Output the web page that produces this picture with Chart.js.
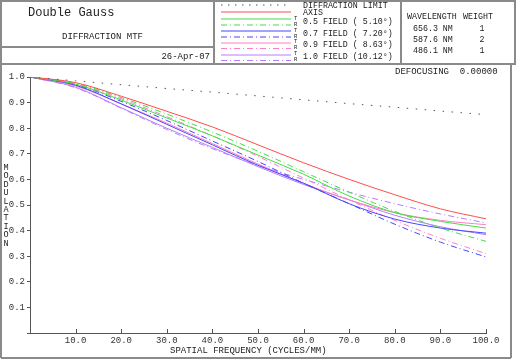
<!DOCTYPE html>
<html lang="en">
<head>
<meta charset="UTF-8">
<title>Double Gauss - Diffraction MTF</title>
<script src="https://cdn.jsdelivr.net/npm/chart.js"></script>
<style>
    body { margin: 0; background: #fff; }
    #wrap { position: relative; width: 517px; height: 362px; }
    #mtf { position: absolute; left: 0; top: 0; }
    #deco { position: absolute; left: 0; top: 0; }
    #deco text { font-family: "Liberation Mono", monospace; fill: #222; white-space: pre; }
</style>
</head>
<body>
<div id="wrap">
    <canvas id="mtf" width="517" height="362"></canvas>
    <svg id="deco" width="517" height="362">
        <!-- frames -->
        <rect x="1" y="1" width="514" height="63" fill="none" stroke="#8a8a8a" stroke-width="2"/>
        <line x1="1" y1="64" x2="1" y2="358" stroke="#8a8a8a" stroke-width="2"/>
        <line x1="511" y1="64" x2="511" y2="358" stroke="#8a8a8a" stroke-width="2"/>
        <line x1="1" y1="358" x2="511" y2="358" stroke="#8a8a8a" stroke-width="2"/>
        <line x1="214" y1="1" x2="214" y2="64" stroke="#8a8a8a" stroke-width="2"/>
        <line x1="401" y1="1" x2="401" y2="64" stroke="#8a8a8a" stroke-width="2"/>
        <line x1="1" y1="47" x2="214" y2="47" stroke="#8a8a8a" stroke-width="2"/>

        <text x="28" y="16" font-size="12">Double Gauss</text>
        <text x="62" y="39" font-size="9">DIFFRACTION MTF</text>
        <text x="210" y="59" font-size="9" text-anchor="end">26-Apr-07</text>

        <g id="legendLines"></g>
        <text x="303" y="8" font-size="8.3">DIFFRACTION LIMIT</text>
        <text x="303" y="15" font-size="8.3">AXIS</text>
        <g id="legendText"></g>

        <text x="407" y="19" font-size="8.3">WAVELENGTH</text>
        <text x="463" y="19" font-size="8.3">WEIGHT</text>
        <g id="waveText"></g>

        <text x="395" y="74" font-size="9" xml:space="preserve">DEFOCUSING  0.00000</text>
        <text x="170" y="353" font-size="9">SPATIAL FREQUENCY (CYCLES/MM)</text>
        <g id="yTitle"></g>
    </svg>
</div>
<script>
    // spatial frequency (cycles/mm)
    const freq = [0, 10, 20, 30, 40, 50, 60, 70, 80, 90, 100];

    // modulation values
    const diffLimit = [1.0, 0.985, 0.970, 0.955, 0.941, 0.926, 0.911, 0.896, 0.882, 0.867, 0.853];
    const axisMtf   = [1.0, 0.978, 0.925, 0.866, 0.805, 0.735, 0.665, 0.600, 0.540, 0.485, 0.446];
    const f05T = [1.0, 0.972, 0.910, 0.840, 0.770, 0.695, 0.620, 0.535, 0.470, 0.436, 0.410];
    const f05R = [1.0, 0.975, 0.920, 0.855, 0.785, 0.710, 0.630, 0.550, 0.475, 0.410, 0.358];
    const f07T = [1.0, 0.968, 0.895, 0.815, 0.735, 0.655, 0.585, 0.505, 0.445, 0.410, 0.390];
    const f07R = [1.0, 0.970, 0.905, 0.830, 0.750, 0.670, 0.585, 0.505, 0.425, 0.355, 0.297];
    const f09T = [1.0, 0.965, 0.895, 0.820, 0.740, 0.660, 0.585, 0.520, 0.470, 0.440, 0.423];
    const f09R = [1.0, 0.972, 0.915, 0.845, 0.770, 0.690, 0.605, 0.520, 0.440, 0.370, 0.310];
    const f10T = [1.0, 0.960, 0.880, 0.800, 0.725, 0.650, 0.580, 0.520, 0.460, 0.415, 0.384];
    const f10R = [1.0, 0.958, 0.878, 0.795, 0.720, 0.655, 0.600, 0.550, 0.505, 0.465, 0.430];

    const fieldLabels = ['0.5 FIELD ( 5.10\u00b0)', '0.7 FIELD ( 7.20\u00b0)', '0.9 FIELD ( 8.63\u00b0)', '1.0 FIELD (10.12\u00b0)'];
    const wavelengths = ['656.3 NM', '587.6 NM', '486.1 NM'];
    const weights = ['1', '2', '1'];

    const RED = '#ff4d4d', GREEN = '#44dd44', BLUE = '#4646ff', PINK = '#ff7fc4', PURPLE = '#b77cff';
    const DASH = [6, 3, 1, 3];

    function pts(arr) {
        return freq.map((f, i) => ({ x: f, y: arr[i] }));
    }

    function ds(arr, color, dash) {
        return {
            data: pts(arr),
            borderColor: color,
            borderWidth: 1,
            borderDash: dash || [],
            pointRadius: 0,
            fill: false,
            cubicInterpolationMode: 'monotone'
        };
    }

    // ticks pointing up into the plot on the x axis
    const innerTicks = {
        id: 'innerTicks',
        afterDraw(chart) {
            const ctx = chart.ctx, x = chart.scales.x, b = chart.chartArea.bottom;
            ctx.save();
            ctx.strokeStyle = '#555';
            ctx.lineWidth = 1;
            for (let v = 10; v <= 100; v += 10) {
                const px = Math.round(x.getPixelForValue(v)) + 0.5;
                ctx.beginPath();
                ctx.moveTo(px, b + 1);
                ctx.lineTo(px, b - 4);
                ctx.stroke();
            }
            ctx.restore();
        }
    };

    new Chart(document.getElementById('mtf'), {
        type: 'line',
        data: {
            datasets: [
                ds(diffLimit, '#555', [1.5, 7.5]),
                ds(axisMtf, RED),
                ds(f05T, GREEN), ds(f05R, GREEN, DASH),
                ds(f07T, BLUE), ds(f07R, BLUE, DASH),
                ds(f09T, PINK), ds(f09R, PINK, DASH),
                ds(f10T, PURPLE), ds(f10R, PURPLE, DASH)
            ]
        },
        options: {
            responsive: false,
            animation: false,
            devicePixelRatio: 1,
            layout: { padding: { left: 0, top: 77, right: 31, bottom: 0 } },
            plugins: { legend: { display: false }, tooltip: { enabled: false } },
            scales: {
                x: {
                    type: 'linear', min: 0, max: 100,
                    afterFit(s) { s.height = 29; },
                    grid: { display: true, drawOnChartArea: false, drawTicks: false },
                    border: { color: '#555', width: 1 },
                    ticks: {
                        stepSize: 10, padding: 2, maxRotation: 0,
                        color: '#333', font: { family: 'Liberation Mono', size: 9 },
                        callback: v => v === 0 ? '' : v.toFixed(1)
                    }
                },
                y: {
                    min: 0, max: 1,
                    afterFit(s) { s.width = 30; },
                    grid: { drawOnChartArea: false, tickLength: 3, color: '#555' },
                    border: { color: '#555', width: 1 },
                    ticks: {
                        stepSize: 0.1, padding: 2,
                        color: '#333', font: { family: 'Liberation Mono', size: 9 },
                        callback: v => v < 0.05 ? '' : v.toFixed(1)
                    }
                }
            }
        },
        plugins: [innerTicks]
    });

    // header legend and labels
    const NS = 'http://www.w3.org/2000/svg';
    function el(parent, tag, attrs, txt) {
        const e = document.createElementNS(NS, tag);
        for (const k in attrs) e.setAttribute(k, attrs[k]);
        if (txt !== undefined) e.textContent = txt;
        document.getElementById(parent).appendChild(e);
    }
    const sampleRows = [
        [5, '#555', '1.5 5.5'], [12, RED, ''],
        [19, GREEN, ''], [25, GREEN, '6 3 1 3'],
        [31, BLUE, ''], [37, BLUE, '6 3 1 3'],
        [43, PINK, ''], [48.5, PINK, '6 3 1 3'],
        [55, PURPLE, ''], [60.5, PURPLE, '6 3 1 3']
    ];
    sampleRows.forEach(r => {
        el('legendLines', 'line', { x1: 221, x2: 291, y1: r[0], y2: r[0], stroke: r[1], 'stroke-width': 1, 'stroke-dasharray': r[2] });
    });
    const fieldY = [21, 33, 44, 56];
    fieldLabels.forEach((t, i) => {
        el('legendText', 'text', { x: 294, y: fieldY[i] - 1, 'font-size': 5.5 }, 'T');
        el('legendText', 'text', { x: 294, y: fieldY[i] + 5, 'font-size': 5.5 }, 'R');
        el('legendText', 'text', { x: 303, y: fieldY[i] + 3, 'font-size': 8.3 }, t);
    });
    wavelengths.forEach((w, i) => {
        el('waveText', 'text', { x: 413, y: 31 + i * 11, 'font-size': 8.3 }, w);
        el('waveText', 'text', { x: 482, y: 31 + i * 11, 'font-size': 8.3, 'text-anchor': 'middle' }, weights[i]);
    });
    'MODULATION'.split('').forEach((c, i) => {
        el('yTitle', 'text', { x: 6, y: 170 + i * 8.4, 'font-size': 8.5, 'text-anchor': 'middle' }, c);
    });
</script>
</body>
</html>
